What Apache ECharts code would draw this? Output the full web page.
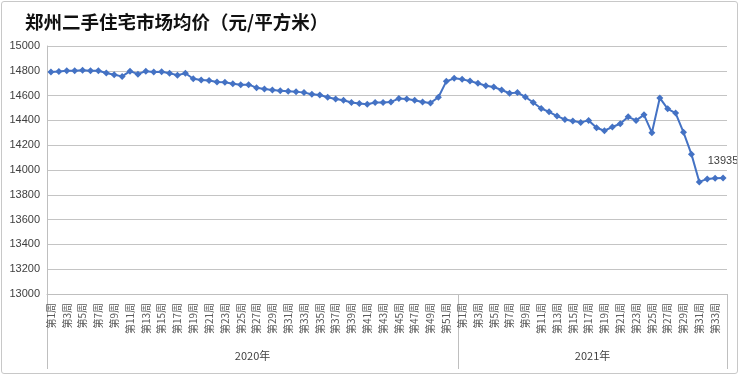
<!DOCTYPE html>
<html>
<head>
<meta charset="utf-8">
<script src="https://cdn.jsdelivr.net/npm/echarts@6/dist/echarts.min.js"></script>
<style>
    body { margin: 0; background: #fff; }
    #wrap { position: relative; width: 740px; height: 376px; }
    #chart_01 { position: absolute; left: 0; top: 0; width: 740px; height: 376px; }
    #frame { position: absolute; left: 1px; top: 1px; width: 735px; height: 371px; border: 1px solid #c8c8c8; border-radius: 3px; pointer-events: none; }
</style>
</head>
<body>
<div id="wrap">
    <div id="chart_01"></div>
    <div id="frame"></div>
</div>
<script>
// 年份与每年周数
var years = ['2020年', '2021年'];
var weekCounts = [52, 34];

// 均价（元/平方米）
var price2020 = [
    14790, 14795, 14800, 14800, 14805, 14800, 14800, 14782, 14768, 14755,
    14797, 14773, 14797, 14790, 14792, 14780, 14765, 14780, 14736, 14725,
    14722, 14709, 14707, 14696, 14688, 14688, 14664, 14653, 14645, 14640,
    14635, 14632, 14624, 14611, 14605, 14587, 14573, 14563, 14544, 14536,
    14531, 14545, 14544, 14549, 14576, 14573, 14563, 14549, 14541, 14587,
    14715, 14739
];
var price2021 = [
    14731, 14717, 14699, 14680, 14669, 14645, 14619, 14624, 14589, 14544,
    14496, 14469, 14435, 14408, 14395, 14384, 14400, 14341, 14317, 14347,
    14373, 14429, 14400, 14445, 14301, 14581, 14493, 14459, 14304, 14128,
    13904, 13928, 13933, 13935
];

var yMin = 13000, yMax = 15000, yStep = 200;

var chart1;

function setChart1() {
    var dom = document.getElementById("chart_01");
    chart1 = echarts.init(dom);

    var categories = [];
    for (var y = 0; y < weekCounts.length; y++) {
        for (var w = 1; w <= weekCounts[y]; w++) {
            categories.push('第' + w + '周');
        }
    }
    var values = price2020.concat(price2021);
    var seriesData = values.map(function (v, i) {
        if (i === values.length - 1) {
            return {
                value: v,
                label: {
                    show: true,
                    position: 'top',
                    distance: 8,
                    fontSize: 11,
                    color: '#404040',
                    fontFamily: 'Liberation Sans'
                }
            };
        }
        return v;
    });

    // 年份分组的边界和中心
    var bounds = [0];
    var centers = [];
    var acc = 0;
    for (var k = 0; k < weekCounts.length; k++) {
        centers.push(acc + weekCounts[k] / 2);
        acc += weekCounts[k];
        bounds.push(acc);
    }

    var option = {
        animation: false,
        title: {
            text: '郑州二手住宅市场均价（元/平方米）',
            left: 20,
            top: 8,
            textStyle: {
                fontFamily: 'Noto Sans CJK SC',
                fontSize: 18.5,
                fontWeight: 'bold',
                color: '#111'
            }
        },
        grid: {
            left: 47,
            right: 13,
            top: 46,
            bottom: 82
        },
        xAxis: [
            {
                type: 'category',
                position: 'bottom',
                boundaryGap: true,
                data: categories,
                axisLine: { lineStyle: { color: '#bfbfbf', width: 1 } },
                axisTick: { show: false },
                axisLabel: {
                    interval: 1,
                    rotate: 90,
                    margin: 9,
                    fontSize: 10,
                    color: '#595959',
                    fontFamily: 'Noto Sans CJK SC'
                }
            },
            {
                type: 'value',
                position: 'bottom',
                min: 0,
                max: acc,
                axisLine: { show: false },
                splitLine: { show: false },
                axisTick: {
                    show: true,
                    customValues: bounds,
                    length: 75,
                    lineStyle: { color: '#bfbfbf', width: 1 }
                },
                axisLabel: {
                    show: true,
                    customValues: centers,
                    margin: 56,
                    fontSize: 11,
                    color: '#404040',
                    fontFamily: 'Noto Sans CJK SC',
                    formatter: function (val) {
                        var idx = centers.indexOf(val);
                        return idx >= 0 ? years[idx] : '';
                    }
                }
            }
        ],
        yAxis: {
            type: 'value',
            min: yMin,
            max: yMax,
            interval: yStep,
            axisLine: { show: true, lineStyle: { color: '#bfbfbf', width: 1 } },
            axisTick: { show: false },
            splitLine: { lineStyle: { color: '#c4c4c4', width: 1 } },
            axisLabel: {
                fontSize: 11,
                color: '#404040',
                margin: 7,
                fontFamily: 'Liberation Sans',
                formatter: function (v) { return String(v); }
            }
        },
        series: [{
            name: '均价',
            type: 'line',
            xAxisIndex: 0,
            data: seriesData,
            symbol: 'diamond',
            symbolSize: 7,
            showSymbol: true,
            showAllSymbol: true,
            lineStyle: { width: 2, color: '#4472C4' },
            itemStyle: { color: '#4472C4' }
        }]
    };
    chart1.setOption(option, true);
}

window.onresize = function () {
    chart1 && chart1.resize();
};
setChart1();
</script>
</body>
</html>
